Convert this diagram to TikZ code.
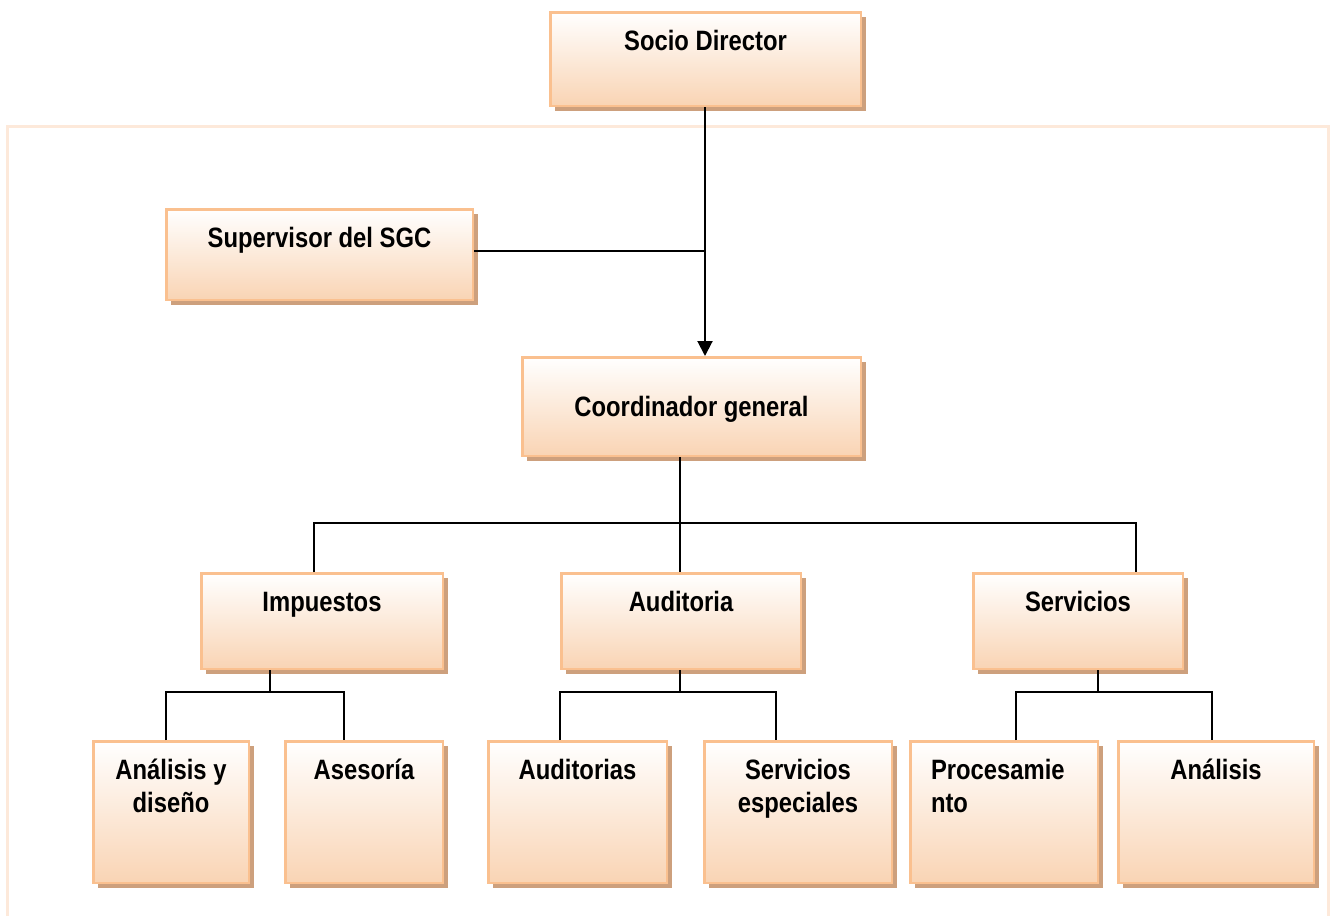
\documentclass[tikz,border=0pt]{standalone}
\usepackage{fontspec}
\newfontfamily\boxfont[FakeStretch=0.85]{Liberation Sans}
\usetikzlibrary{arrows.meta,shadows}
\definecolor{bdr}{RGB}{250,192,143}
\definecolor{bot}{RGB}{249,212,180}
\definecolor{shd}{RGB}{205,160,125}
\definecolor{frm}{RGB}{253,233,218}
\tikzset{
  box/.style={draw=bdr, line width=2.5pt, top color=white, bottom color=bot,
    general shadow={fill=shd, shadow xshift=5pt, shadow yshift=-5pt},
    inner sep=0pt, font=\boxfont\bfseries\fontsize{28}{33}\selectfont},
  conn/.style={draw=black, line width=2pt},
  frame/.style={draw=frm, line width=3pt}
}
\newcommand\orgbox[7]{\node[box, minimum width={#4-#2-2.5}, minimum height={#5-#3-2.5}] (#1) at ({(#2+#4)/2},{(#3+#5)/2}) {\parbox[c][\dimexpr #5pt-#3pt-6pt\relax][t]{\dimexpr #4pt-#2pt-44pt\relax}{\centering\rule{0pt}{#6pt}#7}};}
\begin{document}
\begin{tikzpicture}[x=1pt,y=-1pt]
\useasboundingbox (0,0) rectangle (1330,916);
\draw[frame] (7,916) -- (7,126) -- (1328,126) -- (1328,916);
\orgbox{sd}{549}{11}{862}{107}{36}{Socio Director}
\orgbox{sv}{165}{208}{474}{301}{36}{Supervisor del SGC}
\orgbox{co}{521}{356}{862}{457}{57}{Coordinador general}
\orgbox{im}{200}{572}{444}{670}{36}{Impuestos}
\orgbox{au}{560}{572}{802}{670}{36}{Auditoria}
\orgbox{se}{972}{572}{1184}{670}{36}{Servicios}
\orgbox{ad}{92}{740}{250}{884}{36}{Análisis y diseño}
\orgbox{as}{284}{740}{444}{884}{36}{Asesoría}
\orgbox{ai}{487}{740}{668}{884}{36}{Auditorias}
\orgbox{sp}{703}{740}{893}{884}{36}{Servicios especiales}
\orgbox{pr}{909}{740}{1099}{884}{36}{\raggedright Procesamie\\nto}
\orgbox{an}{1117}{740}{1315}{884}{36}{Análisis}
% top connectors
\coordinate (sdx) at (705,251);
\draw[conn, -{Triangle[length=15pt,width=15pt]}] (sd.south -| sdx) -- (co.north -| sdx);
\draw[conn] (sv.east |- sdx) -- (sdx);
% coordinator bus
\coordinate (bus) at (680,523);
\coordinate (b1) at (314,523);
\coordinate (b3) at (1136,523);
\draw[conn] (co.south -| bus) -- (bus);
\draw[conn] (b1 |- im.north) -- (b1) -- (b3) -- (b3 |- se.north);
\draw[conn] (bus) -- (bus |- au.north);
% Impuestos
\coordinate (i0) at (270,692);
\coordinate (i1) at (166,692);
\coordinate (i2) at (344,692);
\draw[conn] (im.south -| i0) -- (i0);
\draw[conn] (i1 |- ad.north) -- (i1) -- (i2) -- (i2 |- as.north);
% Auditoria
\coordinate (a0) at (680,692);
\coordinate (a1) at (560,692);
\coordinate (a2) at (776,692);
\draw[conn] (au.south -| a0) -- (a0);
\draw[conn] (a1 |- ai.north) -- (a1) -- (a2) -- (a2 |- sp.north);
% Servicios
\coordinate (s0) at (1098,692);
\coordinate (s1) at (1016,692);
\coordinate (s2) at (1212,692);
\draw[conn] (se.south -| s0) -- (s0);
\draw[conn] (s1 |- pr.north) -- (s1) -- (s2) -- (s2 |- an.north);
\end{tikzpicture}
\end{document}
